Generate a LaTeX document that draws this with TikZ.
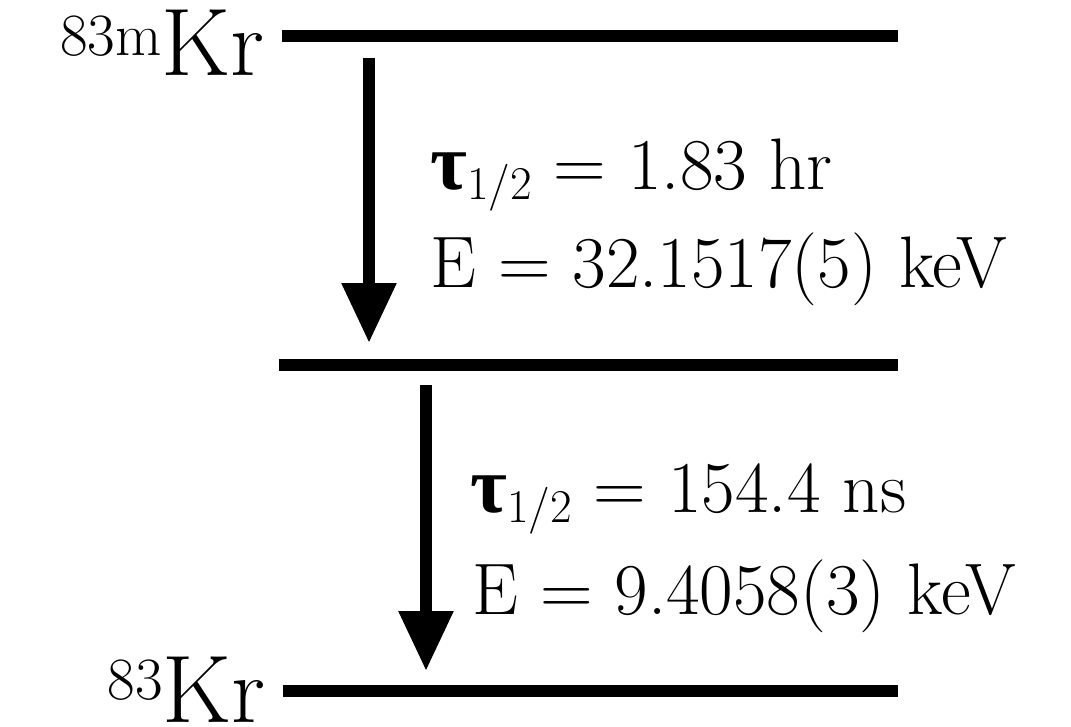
\documentclass[tikz,border=0pt]{standalone}
\usepackage{fontspec}
\newfontfamily\greekfont{Liberation Serif}
\usetikzlibrary{arrows.meta,positioning}
\definecolor{LevelClr}{rgb}{0,0,0}
\newcommand{\HalfLife}{{\greekfont\bfseries\fontsize{80}{80}\selectfont τ}\raisebox{-10pt}{\fontsize{47}{50}\selectfont 1/2}}

\begin{document}
\begin{tikzpicture}[x=1pt,y=-1pt,
  level/.style={line width=12pt,color=LevelClr},
  decay/.style={line width=12pt,color=LevelClr,-{Triangle[width=52pt,length=60pt]}},
  isotope/.style={anchor=base east,inner sep=0pt,font=\fontsize{96}{100}\selectfont},
  decaytxt/.style={anchor=base west,inner sep=0pt,font=\fontsize{73}{80}\selectfont}]
\useasboundingbox (0,0) rectangle (1071,726);
\newcommand{\LvlEnd}{898}

\coordinate (TopL) at (282,36);  \coordinate (TopR) at (\LvlEnd,36);
\coordinate (MidL) at (279,365); \coordinate (MidR) at (\LvlEnd,365);
\coordinate (BotL) at (283,691); \coordinate (BotR) at (\LvlEnd,691);
\coordinate (ArrA) at (369,58);  \coordinate (TipA) at (369,343);
\coordinate (ArrB) at (426,385); \coordinate (TipB) at (426,671);

\draw[level] (TopL) -- (TopR);
\draw[level] (MidL) -- (MidR);
\draw[level] (BotL) -- (BotR);

\draw[decay] (ArrA) -- (TipA);
\draw[decay] (ArrB) -- (TipB);

\node[isotope] (KrM) at (265,75) {\raisebox{20pt}{\fontsize{60}{60}\selectfont 83m}Kr};
\node[isotope] (KrG) at (266,722) {\raisebox{23pt}{\fontsize{60}{60}\selectfont 83}Kr};

\node[decaytxt] (TauA) at (430,189) {\HalfLife{} = 1.83 hr};
\node[decaytxt] (EnA) at (430,287) {E = 32.1517(5) keV};
\node[decaytxt] (TauB) at (470,512) {\HalfLife{} = 154.4 ns};
\node[decaytxt] (EnB) at (472,614) {E = 9.4058(3) keV};

\end{tikzpicture}
\end{document}
